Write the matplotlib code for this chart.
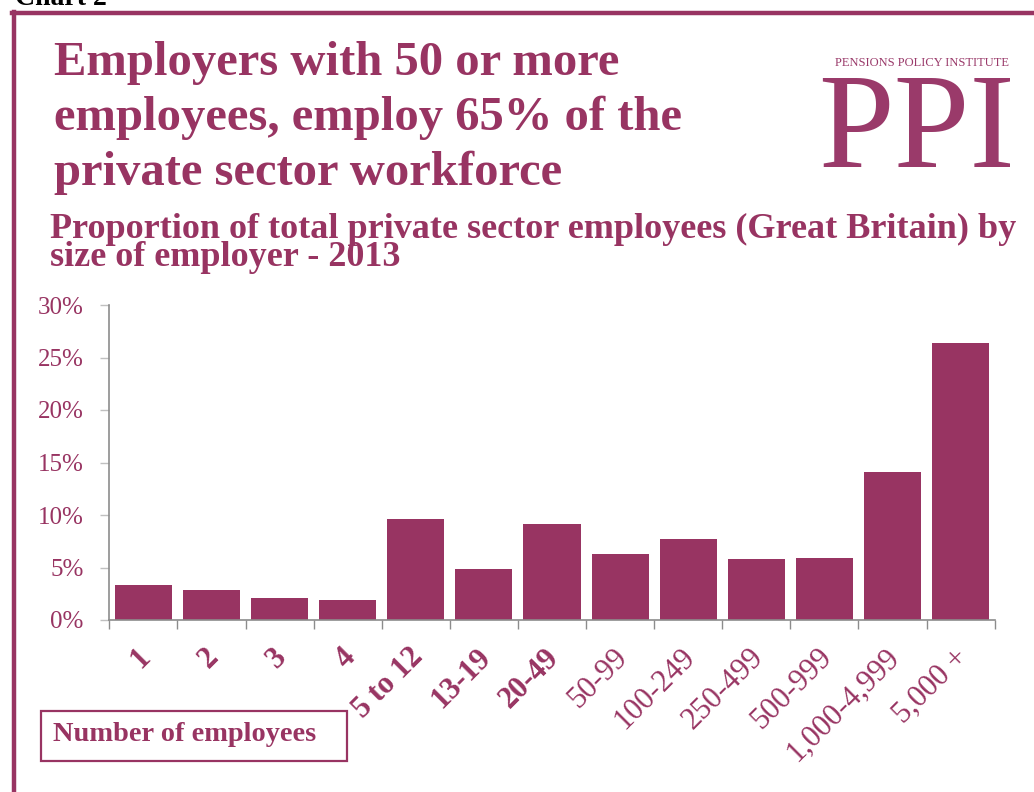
import matplotlib.pyplot as plt
from matplotlib.patches import Rectangle
from matplotlib.lines import Line2D

plt.rcParams['font.family'] = ['Liberation Serif', 'DejaVu Serif']

sizes = ['1', '2', '3', '4', '5 to 12', '13-19', '20-49', '50-99', '100-249',
         '250-499', '500-999', '1,000-4,999', '5,000 +']
share = [3.3, 2.9, 2.1, 1.9, 9.6, 4.9, 9.1, 6.3, 7.7, 5.8, 5.9, 14.1, 26.4]
yticks = [0, 5, 10, 15, 20, 25, 30]
headline = ['Employers with 50 or more', 'employees, employ 65% of the',
            'private sector workforce']
subtitle = ['Proportion of total private sector employees (Great Britain) by',
            'size of employer - 2013']

plum = '#983462'
grey = '#8c8c8c'

W, H = 1034, 792
fig = plt.figure(figsize=(W / 100, H / 100), dpi=100)

def fx(px):
    return px / W

def fy(py):
    return 1 - py / H

# outer frame (left and top edges)
fig.add_artist(Line2D([fx(14), fx(14)], [fy(12), fy(800)], color=plum, lw=3.2))
fig.add_artist(Line2D([fx(12), fx(1040)], [fy(13), fy(13)], color=plum, lw=3.2))
fig.text(fx(15), fy(5), 'Chart 2', fontsize=20, fontweight='bold', color='black',
         ha='left', va='baseline')

# headline, one line at a time
for k, line in enumerate(headline):
    fig.text(fx(54), fy(75 + 55 * k), line, fontsize=35, fontweight='bold',
             color=plum, ha='left', va='baseline')
for k, line in enumerate(subtitle):
    fig.text(fx(50), fy(238 + 28 * k), line, fontsize=26, fontweight='bold',
             color=plum, ha='left', va='baseline')

# logo
fig.text(fx(922), fy(66), 'PENSIONS POLICY INSTITUTE', fontsize=9, color='#9a3a6a',
         ha='center', va='baseline')
fig.text(fx(917), fy(167), 'PPI', fontsize=98, color='#9a3a6a',
         ha='center', va='baseline')

ax = fig.add_axes([fx(109.3), fy(620), fx(994.7) - fx(109.3), fy(305) - fy(620)])
x = list(range(len(sizes)))
ax.bar(x, share, width=0.84, color=plum, zorder=2)

ax.set_xlim(-0.5, len(sizes) - 0.5)
ax.set_ylim(0, 30)
ax.set_yticks(yticks)
ax.set_yticklabels([f'{v}%' for v in yticks], fontsize=18, color=plum)
ax.tick_params(axis='y', length=6.5, width=1, color='#c0c0c0', pad=12)

ax.set_xticks([i - 0.5 for i in range(len(sizes) + 1)])
ax.set_xticklabels([])
ax.tick_params(axis='x', length=6.5, width=1, color=grey)

for side in ['top', 'right']:
    ax.spines[side].set_visible(False)
for side in ['left', 'bottom']:
    ax.spines[side].set_color(grey)
    ax.spines[side].set_linewidth(1.2)

trans = ax.get_xaxis_transform()
for i, lab in enumerate(sizes):
    ax.annotate(lab, xy=(i, 0), xycoords=trans, xytext=(3, -33),
                textcoords='offset pixels', rotation=45, rotation_mode='anchor',
                ha='right', va='center', fontsize=22, color=plum,
                fontweight='bold' if i < 7 else 'normal')

# axis caption box
fig.add_artist(Rectangle((fx(41), fy(761)), fx(347) - fx(41), fy(711) - fy(761),
                         fill=False, edgecolor=plum, lw=1.6))
fig.text(fx(53), fy(741), 'Number of employees', fontsize=20.4, fontweight='bold',
         color=plum, ha='left', va='baseline')

fig.savefig('out.png', dpi=100)
